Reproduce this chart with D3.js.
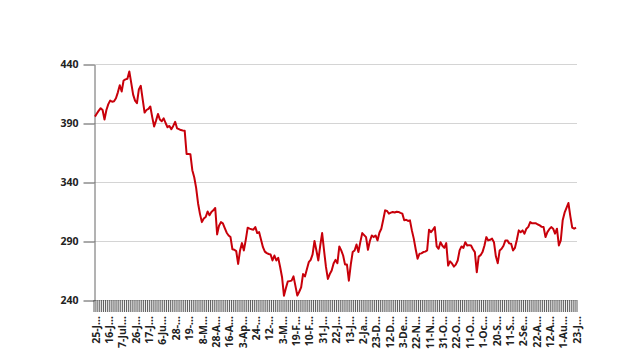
<!DOCTYPE html>
<html>
<head>
<meta charset="utf-8">
<script src="https://cdn.jsdelivr.net/npm/d3@7"></script>
<style>
  body { margin: 0; background: #fff; }
  text { font-family: "Open Sans", sans-serif; font-weight: 700; fill: #222; }
</style>
</head>
<body>
<svg id="chart"></svg>
<script>
// tick labels, one every 7 trading days (newest first)
var tickLabels = ["25-Jul-2019", "16-Jul-2019", "7-Jul-2019", "26-Jun-2019", "17-Jun-2019", "6-Jun-2019",
  "28-May-2019", "19-May-2019", "8-May-2019", "28-Apr-2019", "16-Apr-2019", "3-Apr-2019",
  "24-Mar-2019", "12-Mar-2019", "3-Mar-2019", "19-Feb-2019", "10-Feb-2019", "31-Jan-2019",
  "22-Jan-2019", "13-Jan-2019", "2-Jan-2019", "23-Dec-2018", "12-Dec-2018", "3-Dec-2018",
  "22-Nov-2018", "11-Nov-2018", "31-Oct-2018", "22-Oct-2018", "11-Oct-2018", "1-Oct-2018",
  "20-Sep-2018", "11-Sep-2018", "2-Sep-2018", "22-Aug-2018", "12-Aug-2018", "1-Aug-2018",
  "23-Jul-2018"];
var labelStep = 7;

var yTicks = [240, 290, 340, 390, 440];

// closing values, one per trading day
var prices = [
  395.4, 398, 400.5, 402.5, 401, 393, 401, 406, 409, 408,
  408.5, 411, 416, 422, 416.7, 426, 427, 427.5, 433.7, 424,
  414, 409, 406.8, 418.5, 421.5, 410, 398.8, 401, 402, 404,
  395, 387, 392, 397.7, 393, 391.5, 394, 390, 386.4, 387.5,
  384.7, 387.5, 391, 385.5, 384.8, 384, 383.7, 383.5, 363.7, 363.7,
  363.5, 350, 344, 335, 322, 313, 306, 309, 310.3, 315,
  311.8, 314.6, 316, 318, 295.6, 303, 306, 305, 301, 297,
  294.7, 293.3, 283, 282.6, 281.4, 270.6, 282, 288.2, 282, 291,
  301.3, 300.5, 300, 299.6, 301.8, 296.7, 297.5, 291, 284.8, 281,
  279.7, 279, 278.6, 273.5, 277.7, 273.5, 275.7, 268, 259.3, 243.7,
  250, 255.6, 256, 256.4, 260, 252, 243.7, 247, 250.7, 262,
  260, 266, 272, 274, 278.6, 290, 282, 273.5, 286, 296.7,
  282, 268, 257.9, 262, 265, 271, 274, 271.2, 285.4, 282,
  277.7, 270, 270, 256.4, 270, 280.6, 282, 287, 280.6, 289,
  296.7, 295, 293.3, 282.6, 290, 294.7, 293.3, 294.7, 290.5, 297,
  300.4, 308, 316, 315.4, 313.2, 314, 314.6, 314.2, 314.8, 314.6,
  313.8, 313.2, 307.5, 308, 307, 307.5, 299, 292, 283, 275,
  279.2, 279.5, 280.6, 281, 282, 299.6, 297.5, 299.5, 301.8, 285.4,
  283.4, 289, 286, 284.2, 288.2, 269.2, 272.8, 271, 268.3, 270,
  273.5, 282, 285.4, 284.2, 289, 286.2, 286.5, 286.2, 283, 280.6,
  263.5, 276.8, 278, 280.6, 286, 293.3, 290.5, 291, 292, 289,
  277, 271.2, 282, 283.4, 286, 290.5, 290.5, 288, 287.6, 282,
  284.2, 291, 299, 297.5, 299, 296.2, 300.4, 302, 306, 305,
  305, 305, 304, 303.2, 302, 301.8, 293.3, 297.5, 300, 301.8,
  300.4, 296.2, 300.4, 286.2, 290.5, 307.5, 314, 318, 322.2, 311,
  301.3, 300.4, 301.3
];

var width = 620, height = 364;
var margin = {top: 64, right: 43, bottom: 64, left: 94};
var fontSize = 10.5;

var svg = d3.select("#chart")
  .attr("width", width)
  .attr("height", height);

var x = d3.scaleBand()
  .domain(d3.range(prices.length))
  .range([margin.left, width - margin.right]);

var y = d3.scaleLinear()
  .domain([240, 440])
  .range([height - margin.bottom, margin.top]);

// grid lines
svg.append("g")
  .selectAll("line")
  .data(yTicks)
  .join("line")
  .attr("x1", margin.left)
  .attr("x2", width - margin.right)
  .attr("y1", d => Math.round(y(d)) + 0.5)
  .attr("y2", d => Math.round(y(d)) + 0.5)
  .attr("stroke", "#d4d4d4");

// y axis
var yAxis = svg.append("g")
  .attr("transform", `translate(${margin.left + 0.5},0.5)`)
  .call(d3.axisLeft(y).tickValues(yTicks).tickSize(11).tickPadding(5).tickSizeOuter(0));
yAxis.select(".domain").attr("stroke", "#666");
yAxis.selectAll(".tick line").attr("stroke", "#555");
yAxis.selectAll(".tick text")
  .attr("font-size", fontSize)
  .style("font-family", '"Open Sans", sans-serif')
  .style("font-weight", 700)
  .attr("fill", "#222");

// category tick marks (one per trading day)
var bandTop = height - margin.bottom;
var edges = x.domain().map(i => x(i)).concat([x.range()[1]]);
svg.append("g")
  .selectAll("line")
  .data(edges)
  .join("line")
  .attr("x1", d => d)
  .attr("x2", d => d)
  .attr("y1", bandTop)
  .attr("y2", bandTop + 12)
  .attr("stroke", "#333")
  .attr("stroke-width", 0.8);

// x labels, truncated with an ellipsis
var maxLabel = 3.15 * fontSize;
svg.append("g")
  .selectAll("text")
  .data(tickLabels)
  .join("text")
  .attr("transform", (d, i) => `translate(${x(i * labelStep) + x.bandwidth() / 2 + 1},${bandTop + 16}) rotate(-90)`)
  .attr("text-anchor", "end")
  .attr("dy", "0.35em")
  .attr("font-size", fontSize)
  .text(d => d)
  .each(function(d) {
    var t = d3.select(this);
    if (this.getComputedTextLength() <= maxLabel) return;
    for (var k = d.length - 1; k > 0; k--) {
      t.text(d.slice(0, k) + "...");
      if (this.getComputedTextLength() <= maxLabel) break;
    }
  });

// price line
var line = d3.line()
  .x((d, i) => x(i) + x.bandwidth() / 2)
  .y(d => y(d));

svg.append("path")
  .datum(prices)
  .attr("fill", "none")
  .attr("stroke", "#c8000a")
  .attr("stroke-width", 2)
  .attr("stroke-linejoin", "round")
  .attr("d", line);
</script>
</body>
</html>
